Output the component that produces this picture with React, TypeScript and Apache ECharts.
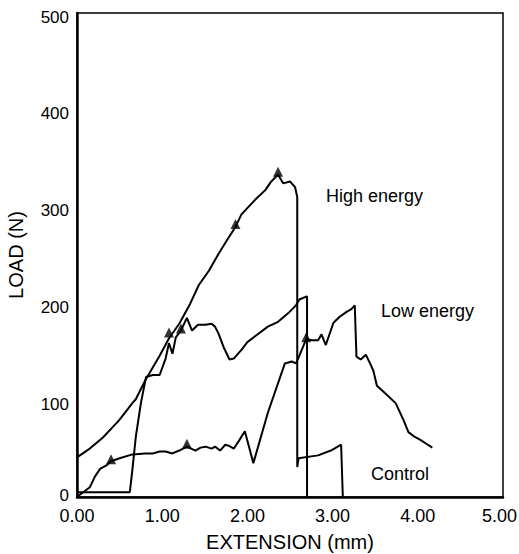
import React, { useEffect, useRef } from "react";
import * as echarts from "echarts";

// Extension (mm), Load (N)
const highEnergy: [number, number][] = [
  [0, 41], [0.15, 50], [0.27, 59], [0.31, 62], [0.46, 76], [0.5, 80], [0.65, 97], [0.69, 101],
  [0.81, 122], [0.97, 146], [1.08, 164], [1.2, 179], [1.33, 200], [1.43, 219], [1.55, 234],
  [1.66, 251], [1.78, 268], [1.86, 279], [1.93, 292], [2.09, 307], [2.21, 317], [2.28, 326],
  [2.36, 333], [2.42, 324], [2.5, 326], [2.56, 320], [2.585, 310], [2.585, 31], [2.6, 40],
  [2.83, 43], [2.98, 48], [3.1, 54], [3.12, 0],
];

const lowEnergy: [number, number][] = [
  [0, 0], [0.03, 2], [0.15, 10], [0.21, 21], [0.27, 29], [0.35, 33], [0.4, 37], [0.5, 40],
  [0.65, 44], [0.8, 45], [0.89, 45], [0.97, 47], [1.04, 47], [1.12, 45], [1.2, 48], [1.29, 52],
  [1.39, 48], [1.45, 51], [1.51, 52], [1.58, 50], [1.62, 52], [1.68, 48], [1.74, 54], [1.78, 53],
  [1.84, 50], [1.9, 58], [1.97, 68], [2.07, 35], [2.24, 87], [2.44, 138], [2.52, 140], [2.57, 138],
  [2.61, 146], [2.69, 163], [2.76, 162], [2.83, 162], [2.87, 168], [2.92, 157], [3.01, 180],
  [3.08, 186], [3.16, 191], [3.22, 194], [3.26, 198], [3.28, 145], [3.33, 142], [3.39, 147],
  [3.44, 138], [3.48, 130], [3.52, 115], [3.62, 107], [3.74, 97], [3.83, 80], [3.89, 67],
  [3.95, 63], [4.03, 59], [4.1, 55], [4.17, 51],
];

const control: [number, number][] = [
  [0, 5], [0.62, 5], [0.65, 28], [0.69, 62], [0.75, 97], [0.81, 124], [0.89, 126], [0.97, 126],
  [1.04, 143], [1.08, 159], [1.12, 148], [1.16, 165], [1.22, 172], [1.29, 185], [1.35, 172],
  [1.42, 178], [1.51, 178], [1.58, 179], [1.62, 176], [1.66, 169], [1.72, 155], [1.79, 142],
  [1.84, 143], [1.93, 152], [2.0, 160], [2.09, 166], [2.24, 176], [2.36, 181], [2.48, 190],
  [2.57, 198], [2.61, 204], [2.69, 207], [2.7, 207], [2.7, 0],
];

const highMarks: [number, number][] = [[1.08, 170], [1.86, 282], [2.36, 336]];
const lowMarks: [number, number][] = [[0.4, 39], [1.29, 55], [2.69, 165]];
const controlMarks: [number, number][] = [[1.22, 174]];

const curveLabels = ["High energy", "Low energy", "Control"];
const xTitle = "EXTENSION (mm)";
const yTitle = "LOAD (N)";

const FONT = "'Liberation Sans', Arial, Helvetica, sans-serif";

export default function App() {
  const ref = useRef<HTMLDivElement>(null);
  useEffect(() => {
    if (!ref.current) return;
    const chart = echarts.init(ref.current, null, { renderer: "svg" });
    const line = (name: string, data: [number, number][]) => ({
      name,
      type: "line",
      data,
      showSymbol: false,
      symbol: "none",
      lineStyle: { color: "#000", width: 2 },
      z: 3,
    });
    const marks = (name: string, data: [number, number][]) => ({
      name: name + " marks",
      type: "scatter",
      data,
      symbol: "triangle",
      symbolSize: [10, 10],
      itemStyle: { color: "#000" },
      z: 4,
    });
    chart.setOption({
      animation: false,
      backgroundColor: "#fff",
      grid: {
        left: 77,
        right: 16,
        top: 13,
        bottom: 57,
        outerBoundsMode: "none",
        containLabel: false,
        show: true,
        borderColor: "#000",
        borderWidth: 1.5,
        backgroundColor: "transparent",
      },
      xAxis: {
        type: "value",
        min: 0,
        max: 5,
        interval: 1,
        name: xTitle,
        nameLocation: "middle",
        nameGap: 35,
        nameTextStyle: { fontFamily: FONT, fontSize: 20, color: "#000" },
        axisLine: { show: true, lineStyle: { color: "#000", width: 2.5 } },
        axisTick: { show: false },
        splitLine: { show: false },
        axisLabel: {
          formatter: (v: number) => (v === 5 ? "{e|" + v.toFixed(2) + "}" : "{n|" + v.toFixed(2) + "}"),
          fontFamily: FONT,
          fontSize: 18,
          color: "#000",
          margin: 12,
          rich: {
            n: { fontFamily: FONT, fontSize: 18, lineHeight: 14, color: "#000" },
            e: { fontFamily: FONT, fontSize: 18, lineHeight: 14, color: "#000", padding: [0, 7, 0, 0] },
          },
        },
      },
      yAxis: {
        type: "value",
        min: 0,
        max: 500,
        interval: 100,
        name: yTitle,
        nameLocation: "middle",
        nameGap: 51,
        nameTextStyle: { fontFamily: FONT, fontSize: 20, color: "#000" },
        axisLine: { show: true, lineStyle: { color: "#000", width: 2.5 } },
        axisTick: { show: false },
        splitLine: { show: false },
        axisLabel: {
          formatter: (v: number) => (v === 0 ? "{z|0}" : "{a|" + v + "}"),
          fontFamily: FONT,
          fontSize: 17,
          color: "#000",
          margin: 8,
          rich: {
            a: { fontFamily: FONT, fontSize: 17, lineHeight: 14, color: "#000", padding: [8, 0, 0, 0] },
            z: { fontFamily: FONT, fontSize: 17, lineHeight: 14, color: "#000", padding: [0, 0, 3, 0] },
          },
        },
      },
      graphic: [
        {
          type: "text",
          left: 326,
          top: 187,
          style: { text: curveLabels[0], fontFamily: FONT, fontSize: 18, fill: "#000" },
        },
        {
          type: "text",
          left: 381,
          top: 302,
          style: { text: curveLabels[1], fontFamily: FONT, fontSize: 18, fill: "#000" },
        },
        {
          type: "text",
          left: 371,
          top: 465,
          style: { text: curveLabels[2], fontFamily: FONT, fontSize: 18, fill: "#000" },
        },
      ],
      series: [
        line(curveLabels[0], highEnergy),
        line(curveLabels[1], lowEnergy),
        line(curveLabels[2], control),
        marks(curveLabels[0], highMarks),
        marks(curveLabels[1], lowMarks),
        marks(curveLabels[2], controlMarks),
      ],
    });
    return () => chart.dispose();
  }, []);
  return (
    <div
      ref={ref}
      style={{ position: "absolute", left: 0, top: 0, width: 519, height: 554, background: "#fff" }}
    />
  );
}
